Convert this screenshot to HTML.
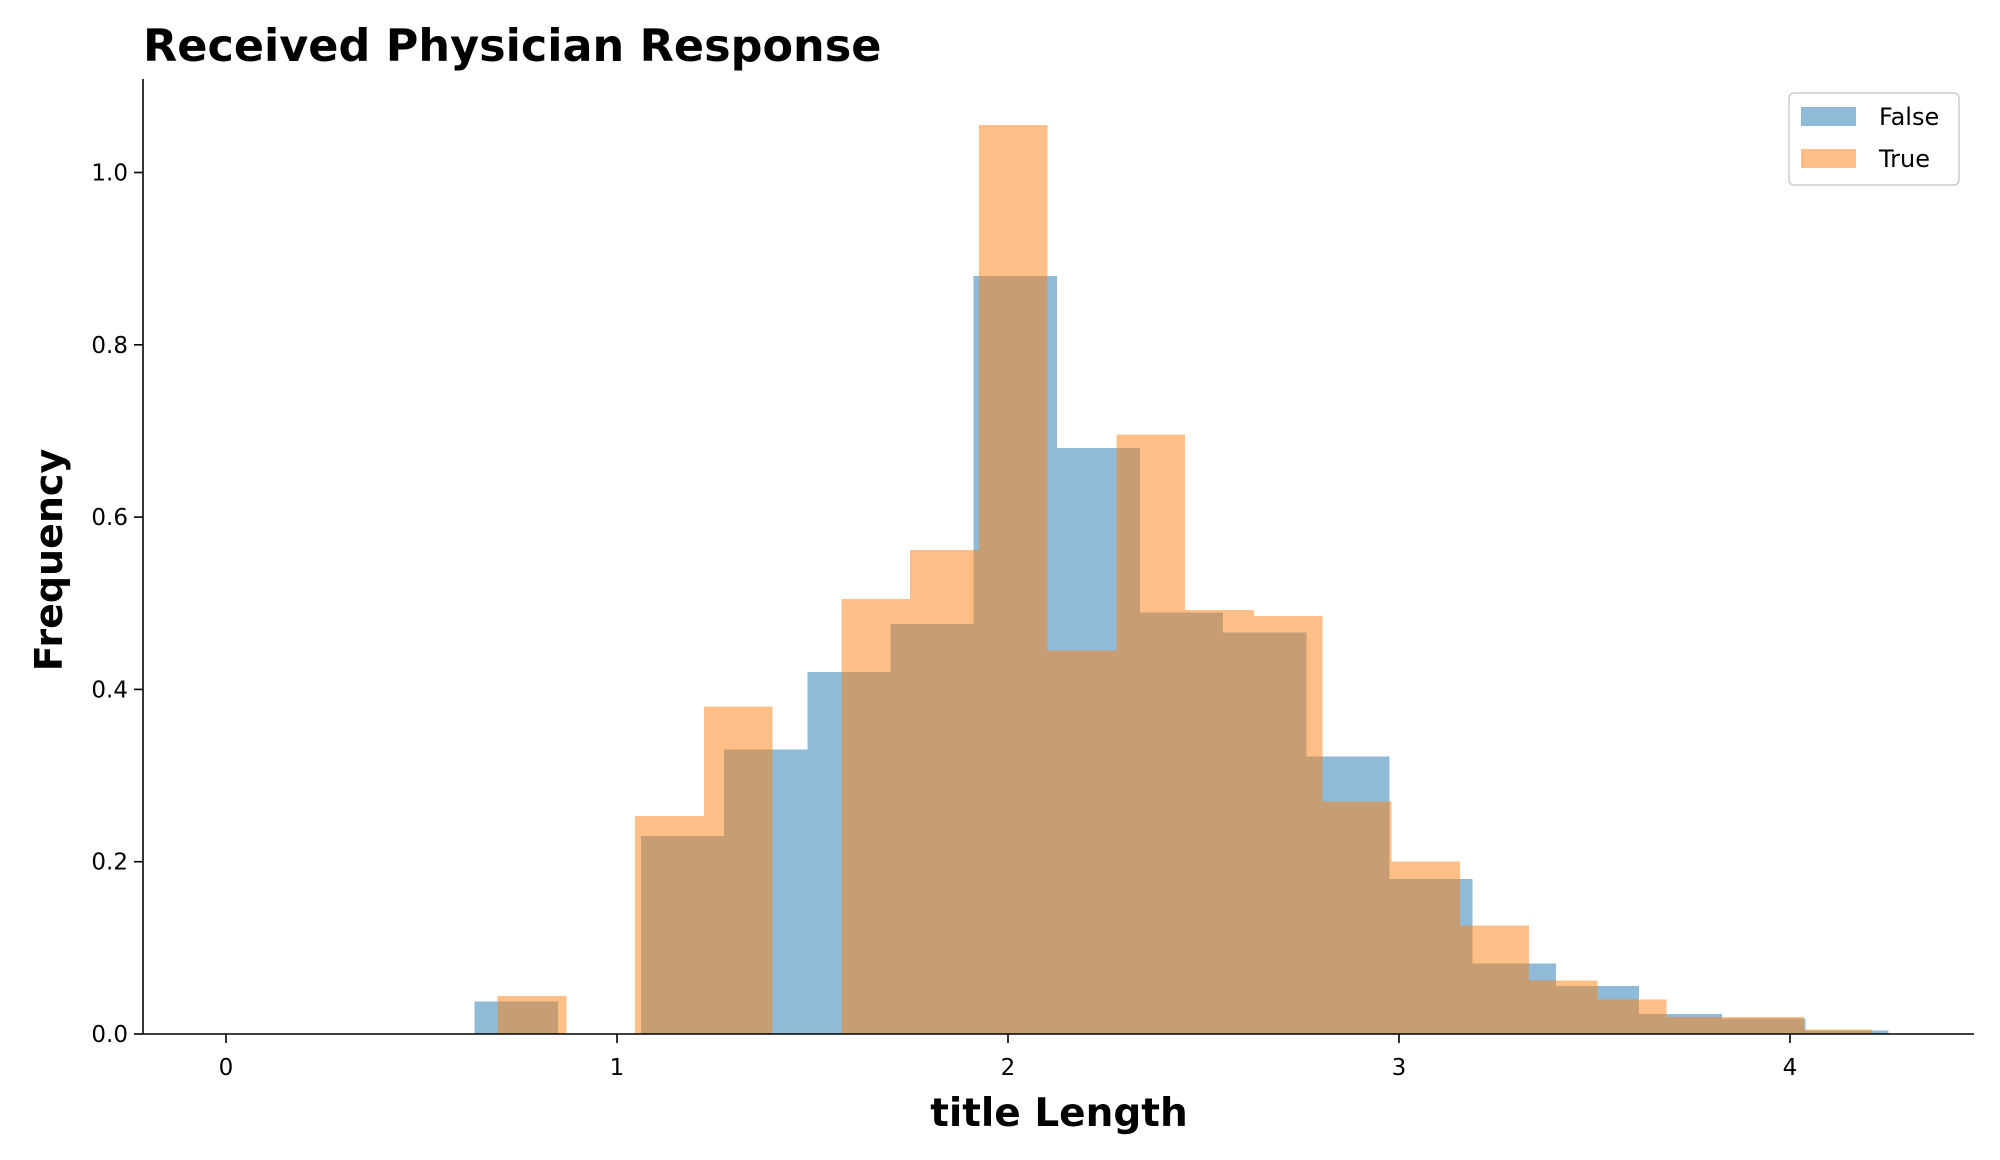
<!DOCTYPE html>
<html><head><meta charset="utf-8"><style>
html,body{margin:0;padding:0;background:#fff;}
svg{display:block;font-family:"DejaVu Sans","Liberation Sans",sans-serif;}
</style></head><body>
<svg id="chart" width="2000" height="1160" viewBox="0 0 2000 1160" xmlns="http://www.w3.org/2000/svg">
<text x="143" y="61" font-size="44.5" font-weight="bold">Received Physician Response</text>
<g id="bars" shape-rendering="crispEdges"></g>
<g id="axes"></g>
<text x="1059" y="1126" font-size="39" font-weight="bold" text-anchor="middle">title Length</text>
<text transform="translate(62,560) rotate(-90)" font-size="38" font-weight="bold" text-anchor="middle">Frequency</text>
<g>
<rect x="1789" y="93" width="170" height="92" rx="5" fill="#fff" fill-opacity="0.8" stroke="#ccc" stroke-width="1.5"/>
<rect x="1801" y="107" width="55" height="19" fill="#1f77b4" fill-opacity="0.5"/>
<text x="1879" y="125" font-size="24">False</text>
<rect x="1801" y="149" width="55" height="19" fill="#ff7f0e" fill-opacity="0.5"/>
<text x="1879" y="167" font-size="24">True</text>
</g>
</svg>
<script>
const falseValues = [0.038, 0, 0.23, 0.33, 0.42, 0.476, 0.88, 0.68, 0.489, 0.466, 0.322, 0.18, 0.082, 0.056, 0.023, 0.018, 0.004];
const falseBinStart = 0.636;
const falseBinWidth = 0.2127;
const trueValues = [0.044, 0, 0.253, 0.38, 0, 0.505, 0.562, 1.055, 0.445, 0.696, 0.492, 0.485, 0.27, 0.2, 0.126, 0.062, 0.04, 0.02, 0.02, 0.005];
const trueBinStart = 0.695;
const trueBinWidth = 0.1758;
const xTicks = [0, 1, 2, 3, 4];
const yTicks = [0.0, 0.2, 0.4, 0.6, 0.8, 1.0];
const yTickLabels = ["0.0", "0.2", "0.4", "0.6", "0.8", "1.0"];

const NS = "http://www.w3.org/2000/svg";
const L = 143, R = 1974, T = 79, B = 1034;
function xs(v){ return 226 + v * 391; }
function ys(v){ return B - v * 861.5; }

const bars = document.getElementById('bars');
function drawSeries(vals, start, w, color, name){
  vals.forEach((v, i) => {
    if (v <= 0) return;
    const x0 = xs(start + i * w), x1 = xs(start + (i + 1) * w);
    const r = document.createElementNS(NS, 'rect');
    
    
    r.setAttribute('x', x0); r.setAttribute('width', x1 - x0);
    r.setAttribute('y', ys(v)); r.setAttribute('height', B - ys(v));
    r.setAttribute('fill', color); r.setAttribute('fill-opacity', '0.5');
    bars.appendChild(r);
  });
}
drawSeries(falseValues, falseBinStart, falseBinWidth, '#1f77b4', 'false');
drawSeries(trueValues, trueBinStart, trueBinWidth, '#ff7f0e', 'true');

const axes = document.getElementById('axes');
function line(x1,y1,x2,y2,name){
  const l = document.createElementNS(NS,'line');
  
  
  l.setAttribute('x1',x1);l.setAttribute('y1',y1);l.setAttribute('x2',x2);l.setAttribute('y2',y2);
  l.setAttribute('stroke','#000');l.setAttribute('stroke-width','1.6');
  axes.appendChild(l);
}
function text(x,y,s,anchor,name){
  const t = document.createElementNS(NS,'text');
  
  
  t.setAttribute('x',x);t.setAttribute('y',y);t.setAttribute('font-size','23');
  t.setAttribute('text-anchor',anchor);t.textContent=s;
  axes.appendChild(t);
}
line(L,T,L,B,'y-axis-line');
line(L,B,R,B,'x-axis-line');
xTicks.forEach(v => { line(xs(v),B,xs(v),B+9,'x-tick'); text(xs(v),B+41,String(v),'middle','x-tick-label'); });
yTicks.forEach((v,i) => { line(L-9,ys(v),L,ys(v),'y-tick'); text(L-15,ys(v)+8,yTickLabels[i],'end','y-tick-label'); });
</script>
</body></html>
